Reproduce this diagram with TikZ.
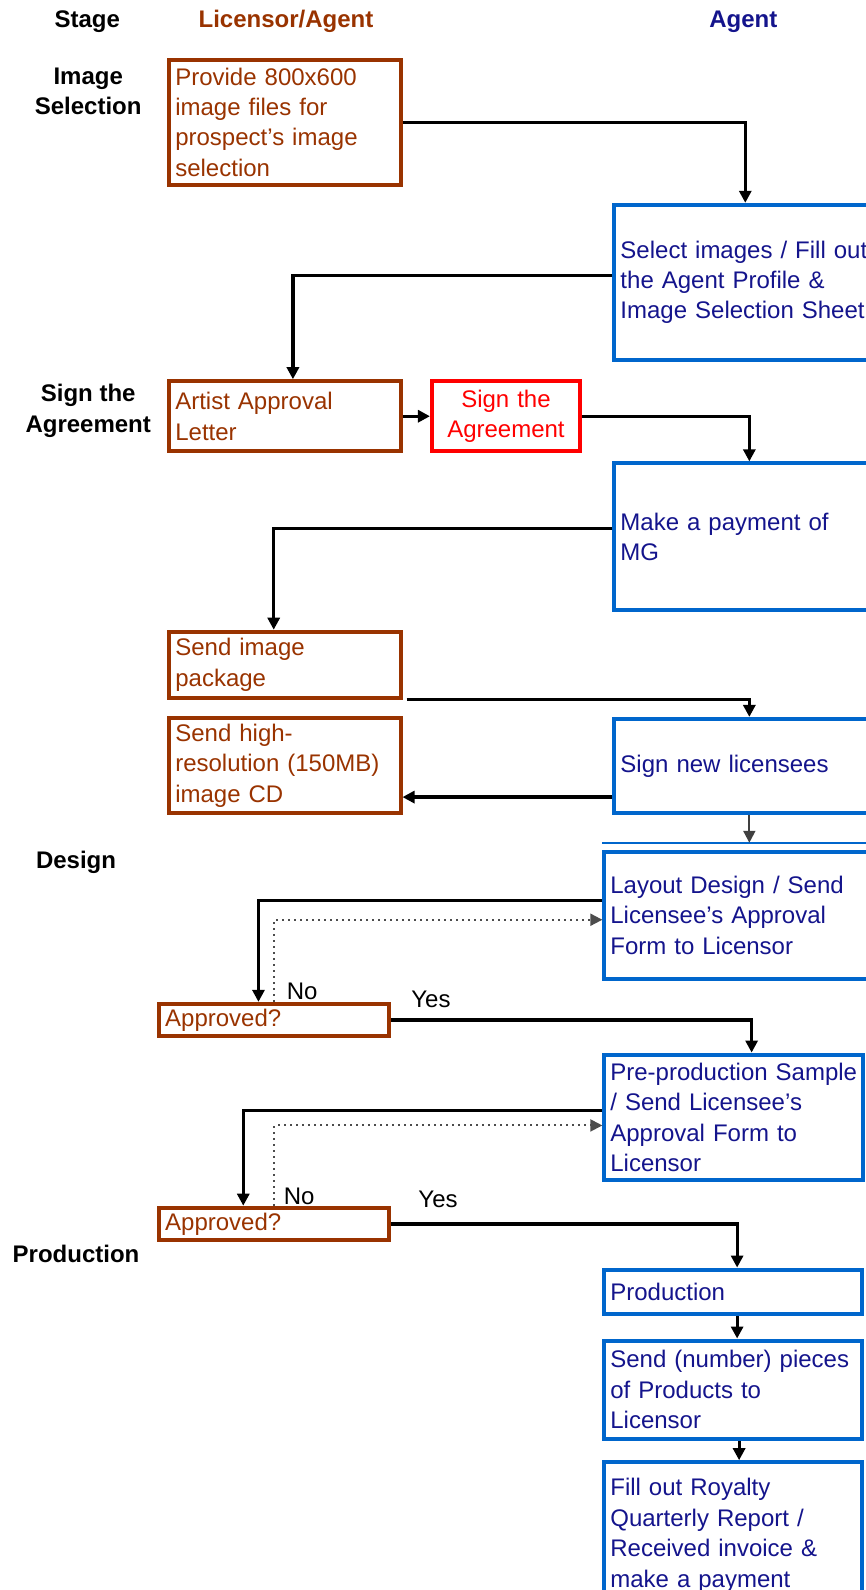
\documentclass[tikz,border=0pt]{standalone}
\usepackage{fontspec}
\setmainfont{Liberation Sans}
\usetikzlibrary{arrows.meta}

\definecolor{brownline}{RGB}{153,51,0}
\definecolor{blueline}{RGB}{0,102,204}
\definecolor{navytext}{RGB}{20,20,140}
\newdimen\unitpx \unitpx=0.507pt
\newdimen\boxtw

\begin{document}
\begin{tikzpicture}[x=0.507pt, y=-0.507pt,
    box/.style n args={3}{draw=#1, line width=2pt, anchor=north west,
      minimum width=#2*\unitpx, minimum height=#3*\unitpx,
      /utils/exec={\pgfmathsetlength\boxtw{#2*\unitpx-6pt}}, text width=\boxtw,
      inner xsep=3pt, inner ysep=0pt, align=left,
      execute at begin node={\hyphenpenalty=10000\exhyphenpenalty=10000\hbadness=10000\hfuzz=20pt},
      font=\fontsize{12}{15.2}\selectfont},
    brownbox/.style 2 args={box={brownline}{#1}{#2}, text=brownline},
    bluebox/.style 2 args={box={blueline}{#1}{#2}, text=navytext},
    redbox/.style 2 args={box={red}{#1}{#2}, text=red, align=center},
    head/.style={font=\bfseries\fontsize{12}{15.2}\selectfont, align=center, inner sep=0pt},
    lbl/.style={font=\fontsize{12}{15.2}\selectfont, inner sep=0pt},
    flow/.style={-{Triangle[length=6pt,width=6pt]}, line width=1.6pt},
    thinflow/.style={-{Triangle[length=6pt,width=6pt]}, line width=1pt, black!75},
    dotflow/.style={-{Triangle[length=6pt,width=6pt]}, line width=1pt, dotted, black!70}]

  \useasboundingbox (0,0) rectangle (854,1568);
  \clip (0,0) rectangle (854,1568);

  % Column and stage headings
  \node[head] (stage) at (86,21) {Stage};
  \node[head, text=brownline] (hlic) at (282,21) {Licensor/Agent};
  \node[head, text=navytext] (hagent) at (733,21) {Agent};
  \node[head] (simg) at (87,90) {Image\\Selection};
  \node[head] (ssign) at (87,405) {Sign the\\Agreement};
  \node[head] (sdes) at (75,850) {Design};
  \node[head] (sprod) at (75,1237) {Production};

  % Licensor/Agent boxes
  \node[brownbox={228}{123}] (prov) at (165,57) {Provide 800x600\\image files for\\prospect's image\\selection};
  \node[brownbox={228}{69}] (artist) at (165,374) {Artist Approval\\Letter};
  \node[redbox={146}{69}] (signag) at (424,374) {Sign the\\Agreement};
  \node[brownbox={228}{65}] (pkg) at (165,621) {Send image\\package};
  \node[brownbox={228}{94}] (cd) at (165,706) {Send high-\\resolution (150MB)\\image CD};
  \node[brownbox={227}{32}] (ap1) at (155,988) {Approved?};
  \node[brownbox={227}{32}] (ap2) at (155,1189) {Approved?};

  % Agent boxes
  \node[bluebox={258}{153}] (sel) at (604,200) {Select images / Fill out\\the Agent Profile \&\\Image Selection Sheet};
  \node[bluebox={266}{145}] (pay) at (604,455) {Make a payment of\\MG};
  \node[bluebox={266}{93}] (lic) at (604,707) {Sign new licensees};
  \node[bluebox={286}{125}] (lay) at (594,838) {Layout Design / Send\\Licensee's Approval\\Form to Licensor};
  \node[bluebox={255}{124}] (pre) at (594,1038) {\mbox{Pre-production Sample}\\/ Send Licensee's\\Approval Form to\\Licensor};
  \node[bluebox={254}{44}] (prod) at (594,1250) {Production};
  \node[bluebox={254}{97}] (send) at (594,1320) {Send (number) pieces\\of Products to\\Licensor};
  \node[bluebox={254}{144}] (fill) at (594,1440) {Fill out Royalty\\Quarterly Report /\\Received invoice \&\\make a payment};
  \draw[blueline, line width=1.2pt] ([yshift=3.5pt]lay.north west) -- ([yshift=3.5pt]lay.north east);

  % Yes / No labels
  \node[lbl] (no1) at (298,978) {No};
  \node[lbl] (yes1) at (425,986) {Yes};
  \node[lbl] (no2) at (295,1180) {No};
  \node[lbl] (yes2) at (432,1183) {Yes};

  % Flow
  \draw[flow] (prov.east) -| (sel.north);
  \draw[flow] ([yshift=3.3pt]sel.west) -| ([xshift=4pt]artist.north);
  \draw[flow] (artist.east) -- (signag.west);
  \draw[flow] (signag.east) -| (pay.north);
  \draw[flow] ([yshift=4.3pt]pay.west) -| ([xshift=-5.6pt]pkg.north);
  \draw[flow] ([xshift=2pt]pkg.south east) -| (lic.north);
  \draw[flow] ([yshift=-15.5pt]lic.west) coordinate (lcd) -- (cd.east |- lcd);
  \draw[thinflow] (lic.south) -- ([yshift=3.5pt]lay.north);
  \draw[flow] ([yshift=7.4pt]lay.west) -| ([xshift=-7.9pt]ap1.north);
  \draw[dotflow] (ap1.north) |- ([yshift=-2.3pt]lay.west);
  \draw[flow] (ap1.east) -| ([xshift=9pt]pre.north);
  \draw[flow] ([yshift=3.5pt]pre.west) -| ([xshift=-15.5pt]ap2.north);
  \draw[dotflow] (ap2.north) |- ([yshift=-4pt]pre.west);
  \draw[flow] (ap2.east) -| ([xshift=2pt]prod.north);
  \draw[flow] ([xshift=2pt]prod.south) -- ([xshift=2pt]send.north);
  \draw[flow] ([xshift=3pt]send.south) -- ([xshift=3pt]fill.north);

\end{tikzpicture}
\end{document}
